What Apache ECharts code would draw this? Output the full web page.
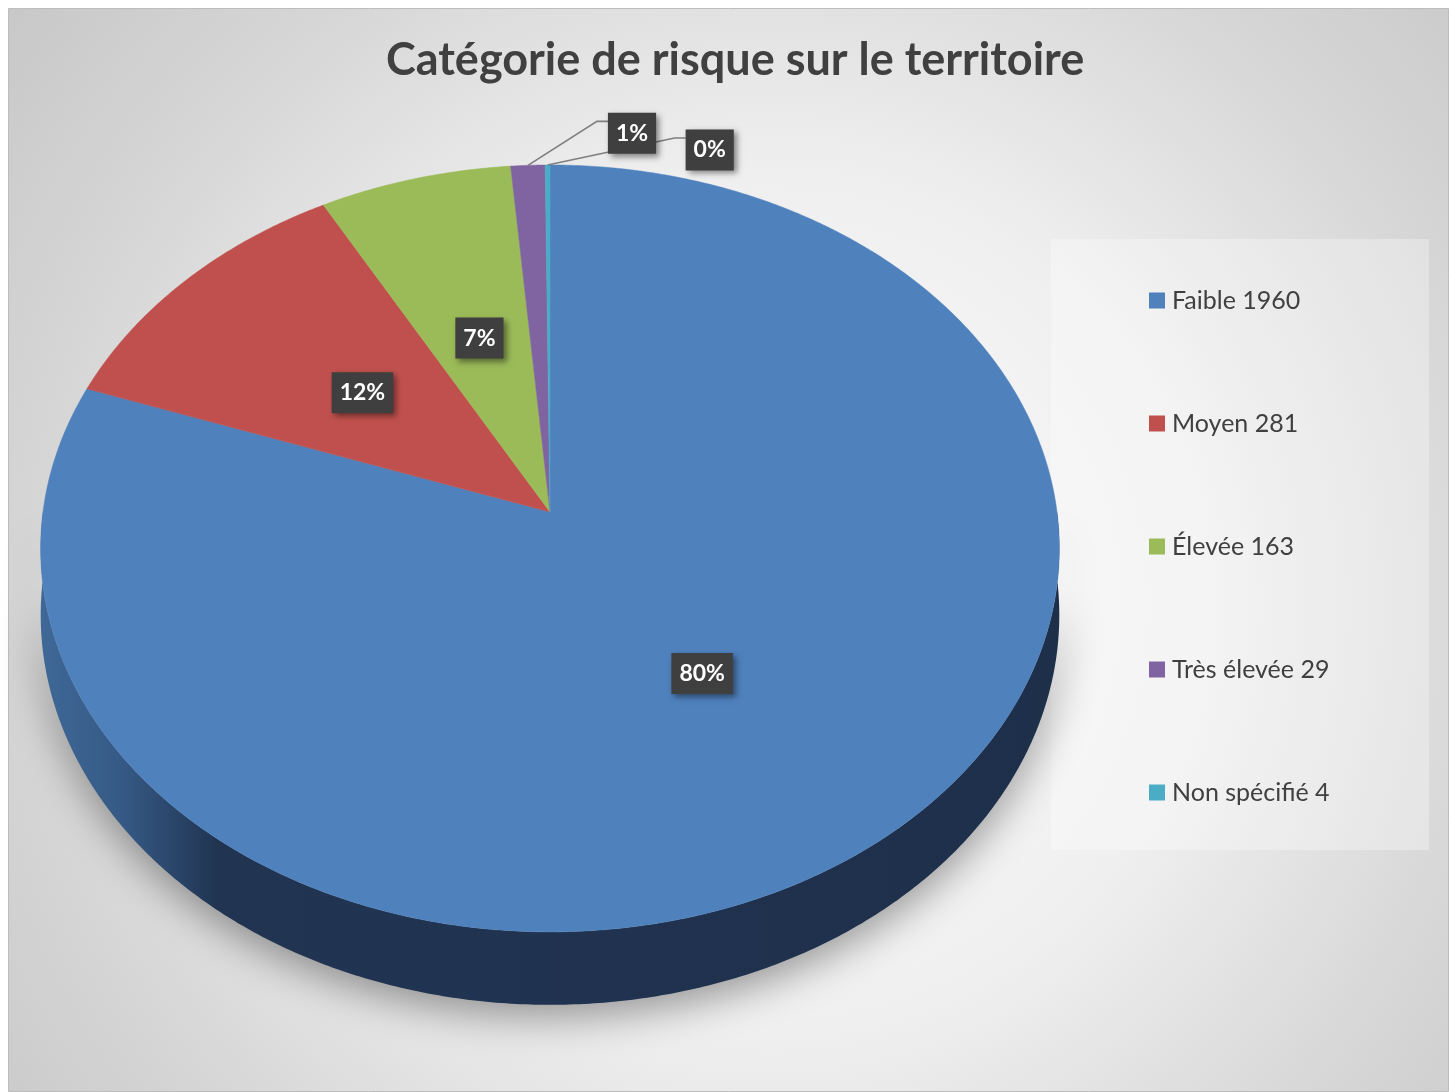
<!DOCTYPE html>
<html>
<head>
<meta charset="utf-8">
<script src="https://cdn.jsdelivr.net/npm/echarts@6/dist/echarts.min.js"></script>
<style>
  html, body { margin: 0; padding: 0; background: #fff; }
  #main { width: 1449px; height: 1092px; }
</style>
</head>
<body>
<div id="main"></div>
<script>
// chart data
var categories = ['Faible', 'Moyen', 'Élevée', 'Très élevée', 'Non spécifié'];
var counts = [1960, 281, 163, 29, 4];
var colors = ['#4f81bd', '#c0504d', '#9bbb59', '#8064a2', '#4bacc6'];
var titleText = 'Catégorie de risque sur le territoire';

var total = counts.reduce(function (a, b) { return a + b; }, 0);
var starts = [];
counts.reduce(function (acc, v, i) { starts[i] = acc / total; return acc + v; }, 0);

// 3d pie geometry (perspective tilt)
var PIE = { cx: 550, cy: 512, rx: 507, ry: 380, k: 0.095, depth: 66 };
var FONT = 'Lato, "Open Sans", sans-serif';

function proj(t, r, drop) {
  var a = t * 2 * Math.PI;
  var u = r * Math.sin(a), v = -r * Math.cos(a);
  var w = 1 - PIE.k * v;
  return [PIE.cx + PIE.rx * u / w, PIE.cy + (PIE.ry * v + (drop || 0)) / w];
}

function rim(t0, t1, drop) {
  var pts = [];
  var n = Math.max(2, Math.ceil((t1 - t0) * 720));
  for (var j = 0; j <= n; j++) pts.push(proj(t0 + (t1 - t0) * j / n, 1, drop));
  return pts;
}

var sideFill = {
  type: 'linear', x: PIE.cx - PIE.rx, y: 0, x2: PIE.cx + PIE.rx, y2: 0, global: true,
  colorStops: [
    { offset: 0, color: '#3f6897' },
    { offset: 0.08, color: '#355984' },
    { offset: 0.17, color: '#213553' },
    { offset: 1, color: '#1e2f4a' }
  ]
};

// small slices get outside labels with leader lines
var outerOffsets = [[80, -44], [138, -27]];

function renderSlice(params, api) {
  var val = api.value(0);
  var t0 = api.value(1);
  var t1 = t0 + val / total;
  var idx = params.seriesIndex;
  var color = colors[idx];
  var children = [];

  // side wall, only the front half is visible
  var lo = Math.max(t0, 0.25), hi = Math.min(t1, 0.75);
  if (hi > lo) {
    var top = rim(lo, hi, 0);
    var bot = rim(lo, hi, PIE.depth).reverse();
    children.push({
      type: 'polygon', z2: 0,
      shape: { points: top.concat(bot) },
      style: {
        fill: idx === 0 ? sideFill : color,
        shadowBlur: 40, shadowColor: 'rgba(0,0,0,0.38)', shadowOffsetY: 12
      }
    });
  }

  // top face
  var face = [[PIE.cx, PIE.cy]].concat(rim(t0, t1, 0));
  children.push({
    type: 'polygon', z2: 1,
    shape: { points: face },
    style: { fill: color, stroke: color, lineWidth: 0.5 }
  });

  // data label
  var frac = val / total;
  var txt = Math.round(frac * 100) + '%';
  var mid = (t0 + t1) / 2;
  var labelStyle = {
    text: txt, fill: '#ffffff', font: 'bold 23px ' + FONT,
    backgroundColor: '#3f3f3f', padding: [9, 8, 9, 8],
    shadowBlur: 6, shadowColor: 'rgba(0,0,0,0.45)', shadowOffsetX: 3, shadowOffsetY: 3
  };
  if (frac >= 0.03) {
    var p = proj(mid, 0.5, 0);
    labelStyle.x = p[0]; labelStyle.y = p[1];
    labelStyle.align = 'center'; labelStyle.verticalAlign = 'middle';
    children.push({ type: 'text', z2: 10, style: labelStyle });
  } else {
    var k = 0;
    for (var s = 0; s < params.seriesIndex; s++) if (counts[s] / total < 0.03) k++;
    var off = outerOffsets[Math.min(k, outerOffsets.length - 1)];
    var pr = proj(mid, 1, 0);
    var ax = pr[0] + off[0], ay = pr[1] + off[1];
    children.push({
      type: 'polyline', z2: 5,
      shape: { points: [pr, [ax - 11, ay], [ax, ay]] },
      style: { stroke: '#7f7f7f', lineWidth: 1.6, fill: null }
    });
    labelStyle.x = ax; labelStyle.y = ay + 12;
    labelStyle.align = 'left'; labelStyle.verticalAlign = 'middle';
    children.push({ type: 'text', z2: 10, style: labelStyle });
  }
  return { type: 'group', children: children };
}

var series = categories.map(function (name, i) {
  return {
    name: name,
    type: 'custom',
    coordinateSystem: 'none',
    renderItem: renderSlice,
    itemStyle: { color: colors[i] },
    silent: true,
    animation: false,
    data: [[counts[i], starts[i]]]
  };
});

var chart = echarts.init(document.getElementById('main'));
var option = {
  animation: false,
  title: {
    text: titleText,
    left: 381,
    top: 33,
    textStyle: { fontFamily: FONT, fontSize: 45, fontWeight: 'bold', color: '#404040' }
  },
  graphic: [
    {
      type: 'rect', z: -10, silent: true,
      shape: { x: 8.5, y: 8.5, width: 1440, height: 1083 },
      style: {
        fill: {
          type: 'radial', x: 0.53, y: 0.55, r: 1.0,
          colorStops: [
            { offset: 0, color: '#fdfdfd' },
            { offset: 0.4, color: '#efefef' },
            { offset: 0.68, color: '#d6d6d6' },
            { offset: 0.95, color: '#c4c4c4' }
          ]
        },
        stroke: '#bdbdbd', lineWidth: 1
      }
    },
    {
      type: 'rect', z: -5, silent: true,
      shape: { x: 1051, y: 239, width: 378, height: 611 },
      style: { fill: 'rgba(255,255,255,0.3)' }
    }
  ],
  legend: {
    data: categories,
    orient: 'vertical',
    left: 1149,
    top: 288,
    padding: 0,
    icon: 'rect',
    itemWidth: 16,
    itemHeight: 16,
    itemGap: 98,
    selectedMode: false,
    formatter: function (name) {
      return name + ' ' + counts[categories.indexOf(name)];
    },
    textStyle: { fontFamily: FONT, fontSize: 25, color: '#404040', padding: [0, 0, 0, 2] }
  },
  series: series
};
chart.setOption(option);
window.onresize = chart.resize;
</script>
</body>
</html>
